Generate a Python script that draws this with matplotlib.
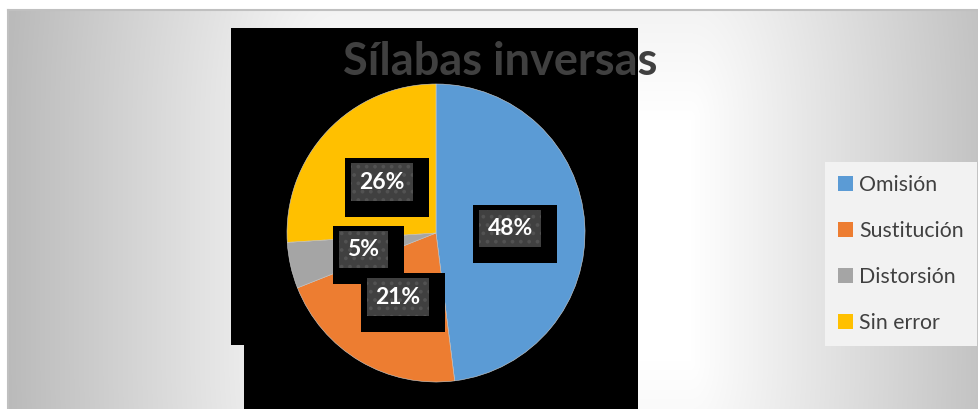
import numpy as np
import matplotlib
matplotlib.use('Agg')
import matplotlib.pyplot as plt
from matplotlib.patches import Polygon, Rectangle

# ---- data ----
categories = ['Omisión', 'Sustitución', 'Distorsión', 'Sin error']
values = [48, 21, 5, 26]
colors = ['#5B9BD5', '#ED7D31', '#A5A5A5', '#FFC000']
title = 'Sílabas inversas'

W, H = 979, 409
fig = plt.figure(figsize=(W / 100, H / 100), dpi=100, facecolor='white')
ax = fig.add_axes([0, 0, 1, 1])

# ---- background gradient (chart area) ----
x0, ytop = 8, 10
yy, xx = np.mgrid[ytop:H, x0:W].astype(float)
cx, cy = 515.0, 240.0
ex = np.clip(np.abs(xx - cx) - 175, 0, None)
ey = 0.5 * np.clip(np.abs(yy - cy) - 120, 0, None)
d = np.sqrt(ex ** 2 + ey ** 2)
val = 1 - 0.235 * np.clip(d / 290, 0, 1.15)
img = np.dstack([val, val, val])
ax.imshow(img, extent=(x0, W, 0, H - ytop), origin='upper', zorder=0,
          interpolation='bilinear', aspect='auto')
ax.plot([x0, W], [H - ytop, H - ytop], color='#c0c0c0', lw=1.5, zorder=0.5)
ax.plot([x0, x0], [0, H - ytop], color='#c0c0c0', lw=1.5, zorder=0.5)

# ---- black rendering artifact behind the plot area ----
blk = Polygon([(231, H - 28), (638, H - 28), (638, 0), (244, 0), (244, H - 345), (231, H - 345)],
              closed=True, facecolor='black', edgecolor='none', zorder=0.8)
ax.add_patch(blk)

# ---- pie ----
wedges, texts, autotexts = ax.pie(
    values, colors=colors, startangle=90, counterclock=False,
    center=(436, H - 233), radius=149, autopct='%1.0f%%', pctdistance=0.5,
    frame=True, wedgeprops=dict(edgecolor='#d0d0d0', linewidth=0.4),
    textprops=dict(color='white', fontsize=16.5, fontweight='bold', family='Lato'))

plt.rcParams['hatch.linewidth'] = 1.5
for at in autotexts:
    at.set_zorder(5)
    at.set_bbox(dict(boxstyle='square,pad=0.36', facecolor='#404040',
                     edgecolor='#525252', linewidth=0, hatch='..'))

ax.set_xlim(0, W)
ax.set_ylim(0, H)
ax.set_aspect('auto')
ax.axis('off')

# black offset boxes behind the data labels
fig.canvas.draw()
inv = ax.transData.inverted()
for at in autotexts:
    bb = at.get_bbox_patch().get_window_extent()
    (bx0, by0), (bx1, by1) = inv.transform([(bb.x0, bb.y0), (bb.x1, bb.y1)])
    ax.add_patch(Rectangle((bx0 - 6, by0 - 16), (bx1 - bx0) + 22, (by1 - by0) + 21,
                           facecolor='black', edgecolor='none', zorder=4))

# ---- title ----
ax.text(500, H - 75, title, ha='center', va='baseline', fontsize=32.5,
        fontweight='bold', color='#404040', family='Lato', zorder=6)

# ---- legend ----
leg = ax.legend(wedges, categories, loc='upper left', bbox_to_anchor=(825, H - 162),
                bbox_transform=ax.transData, borderaxespad=0, frameon=True,
                fancybox=False, framealpha=1, facecolor='#f2f2f2', edgecolor='none',
                prop=dict(family='Lato', size=15.3), handlelength=0.68, handleheight=0.68,
                handletextpad=0.3, labelspacing=1.22, borderpad=0.62, labelcolor='#404040')
leg.set_zorder(6)
for h in leg.legend_handles:
    h.set_edgecolor('none')

fig.savefig('out.png', dpi=100, facecolor='white')
